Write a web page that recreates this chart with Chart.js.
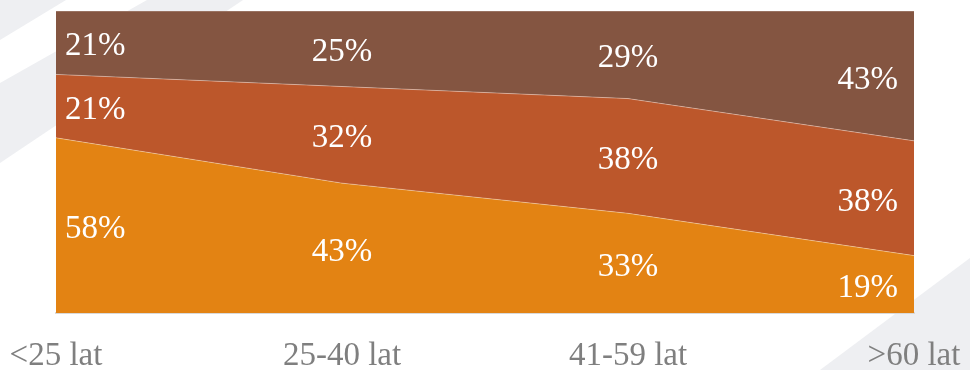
<!DOCTYPE html>
<html>
<head>
<meta charset="utf-8">
<script src="https://cdn.jsdelivr.net/npm/chart.js@4"></script>
<style>
  html, body { margin: 0; padding: 0; background: #fff; }
  #wrap { width: 970px; height: 370px; }
</style>
</head>
<body>
<div id="wrap"><canvas id="chart" width="970" height="370"></canvas></div>
<script>
// age groups and shares (%), bottom band first
const ageGroups = ['<25 lat', '25-40 lat', '41-59 lat', '>60 lat'];
const bottomShare = [58, 43, 33, 19];
const middleShare = [21, 32, 38, 38];
const topShare = [21, 25, 29, 43];

const bandColors = ['#e38313', '#bc572b', '#845541'];
const labelFont = '33px "Liberation Serif", serif';

// faint diagonal stripes behind the chart
const stripes = {
  id: 'stripes',
  beforeDraw(chart) {
    const ctx = chart.ctx;
    ctx.save();
    ctx.fillStyle = '#ffffff';
    ctx.fillRect(0, 0, chart.width, chart.height);
    ctx.fillStyle = '#eeeff2';
    const shapes = [
      [[0, 0], [66, 0], [0, 40]],
      [[0, 83], [147, 0], [243, 0], [0, 163]],
      [[820, 370], [970, 258], [970, 370]]
    ];
    shapes.forEach(pts => {
      ctx.beginPath();
      pts.forEach((p, i) => i ? ctx.lineTo(p[0], p[1]) : ctx.moveTo(p[0], p[1]));
      ctx.closePath();
      ctx.fill();
    });
    ctx.restore();
  }
};

// percent labels in the middle of each band
const bandLabels = {
  id: 'bandLabels',
  afterDatasetsDraw(chart) {
    const ctx = chart.ctx;
    const area = chart.chartArea;
    ctx.save();
    ctx.font = labelFont;
    ctx.fillStyle = '#ffffff';
    ctx.textBaseline = 'middle';
    chart.data.datasets.forEach((ds, i) => {
      const meta = chart.getDatasetMeta(i);
      const below = i > 0 ? chart.getDatasetMeta(i - 1) : null;
      meta.data.forEach((pt, j) => {
        const bottom = below ? below.data[j].y : area.bottom;
        const y = (pt.y + bottom) / 2 + 4;
        let x = pt.x;
        if (j === 0) { ctx.textAlign = 'left'; x += 9; }
        else if (j === meta.data.length - 1) { ctx.textAlign = 'right'; x -= 16; }
        else ctx.textAlign = 'center';
        ctx.fillText(ds.data[j] + '%', x, y);
      });
    });
    ctx.restore();
  }
};

const series = [bottomShare, middleShare, topShare];

new Chart(document.getElementById('chart'), {
  type: 'line',
  data: {
    labels: ageGroups,
    datasets: series.map((vals, i) => ({
      data: vals,
      backgroundColor: bandColors[i],
      borderColor: 'rgba(255,255,255,0.35)',
      borderWidth: 1,
      pointRadius: 0,
      tension: 0,
      fill: i === 0 ? 'origin' : '-1'
    }))
  },
  options: {
    responsive: false,
    animation: false,
    devicePixelRatio: 1,
    layout: { padding: { left: 56, right: 56, top: 11, bottom: 0 } },
    plugins: { legend: { display: false }, tooltip: { enabled: false } },
    scales: {
      x: {
        offset: false,
        grid: { display: false, drawTicks: false },
        border: { display: true, color: '#d9d9d9', width: 2 },
        ticks: {
          color: '#7f7f7f',
          font: { family: '"Liberation Serif", serif', size: 33 },
          padding: 24,
          maxRotation: 0,
          autoSkip: false
        },
        afterFit(scale) {
          scale.height = 57;
          scale.paddingLeft = 0;
          scale.paddingRight = 0;
        }
      },
      y: { display: false, stacked: true, min: 0, max: 100 }
    }
  },
  plugins: [stripes, bandLabels]
});
</script>
</body>
</html>
